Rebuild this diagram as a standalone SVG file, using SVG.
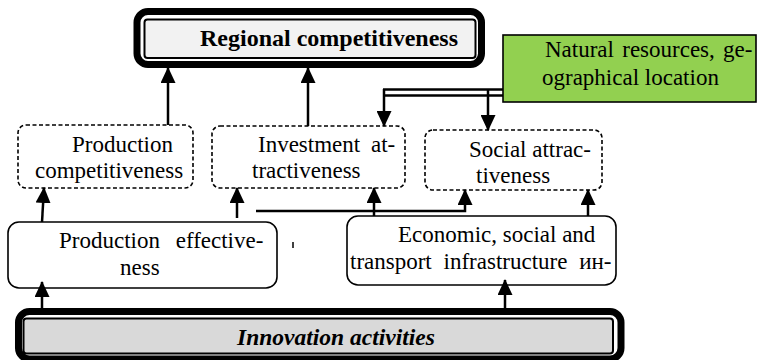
<svg xmlns="http://www.w3.org/2000/svg" width="757" height="360" viewBox="0 0 757 360">
<style>
  text { font-family: 'Liberation Serif', 'Times New Roman', Times, serif; font-size: 23px; fill: #000; }
  .bold { font-weight: bold; font-size: 24px; }
  .bi { font-weight: bold; font-style: italic; font-size: 23.5px; }
  .outer { fill: #fff; stroke: #000; stroke-width: 7; }
  .inner { stroke: #000; stroke-width: 2; }
  .dash { fill: #fff; stroke: #000; stroke-width: 1.6; stroke-dasharray: 4 2.5; }
  .solid { fill: #fff; stroke: #000; stroke-width: 1.6; }
  .conn { fill: none; stroke: #000; stroke-width: 2.5; }
</style>
<defs>
  <marker id="arr" markerUnits="userSpaceOnUse" viewBox="0 0 16 15" markerWidth="16" markerHeight="15" refX="15" refY="7.5" orient="auto">
    <path d="M0,0 L16,7.5 L0,15 z" fill="#000"/>
  </marker>
</defs>
<rect width="757" height="360" fill="#fff"/>

<g font-family="Liberation Serif, serif">
<g id="regional">
  <rect class="outer" x="137" y="11.5" width="344.5" height="53" rx="11"/>
  <rect class="inner" x="144.5" y="19.5" width="331" height="38.5" rx="3" fill="#f2f2f2"/>
  <text class="bold" x="200" y="46">Regional competitiveness</text>
</g>

<g id="natural">
  <rect x="503" y="35" width="253" height="67" fill="#92d050" stroke="#000" stroke-width="1.6"/>
  <text x="545" y="57" word-spacing="2.5">Natural resources, ge-</text>
  <text x="542" y="85">ographical location</text>
</g>

<g id="prodcomp">
  <rect class="dash" x="18" y="125" width="175" height="63" rx="8"/>
  <text x="72" y="152">Production</text>
  <text x="35" y="178">competitiveness</text>
</g>

<g id="invest">
  <rect class="dash" x="212" y="126" width="193" height="62" rx="8"/>
  <text x="258" y="152" word-spacing="5">Investment at-</text>
  <text x="252" y="178">tractiveness</text>
</g>

<g id="social">
  <rect class="dash" x="425" y="130" width="177" height="60" rx="8"/>
  <text x="469" y="157">Social attrac-</text>
  <text x="476" y="183">tiveness</text>
</g>

<g id="prodeff">
  <rect class="solid" x="8" y="222" width="269" height="66" rx="11"/>
  <text x="59" y="248" word-spacing="10">Production effective-</text>
  <text x="120" y="275">ness</text>
</g>

<g id="infra">
  <rect class="solid" x="347" y="216" width="269" height="69" rx="11"/>
  <text x="398" y="242">Economic, social and</text>
  <text x="350" y="269" word-spacing="6">transport infrastructure ин-</text>
</g>

<g id="innovation">
  <rect class="outer" x="18.5" y="311.5" width="602.5" height="47.5" rx="11"/>
  <rect class="inner" x="23.5" y="318.5" width="589.5" height="35" rx="3" fill="#d9d9d9"/>
  <text class="bi" x="237" y="345">Innovation activities</text>
</g>
</g>

<g id="tick">
  <line x1="293" y1="242" x2="293" y2="248" stroke="#000" stroke-width="1.5"/>
</g>

<g id="connectors">
  <line class="conn" x1="168" y1="125" x2="168" y2="68" marker-end="url(#arr)"/>
  <line class="conn" x1="308" y1="126" x2="308" y2="68" marker-end="url(#arr)"/>
  <line class="conn" x1="383" y1="89.5" x2="503" y2="89.5"/>
  <line class="conn" x1="384" y1="95.5" x2="503" y2="95.5"/>
  <line class="conn" x1="384" y1="89" x2="384" y2="126" marker-end="url(#arr)"/>
  <line class="conn" x1="488" y1="89" x2="488" y2="130" marker-end="url(#arr)"/>
  <line class="conn" x1="42" y1="222" x2="44" y2="188" marker-end="url(#arr)"/>
  <line class="conn" x1="237" y1="218" x2="237" y2="188" marker-end="url(#arr)"/>
  <polyline class="conn" points="256,211 465,211 465,190" marker-end="url(#arr)"/>
  <line class="conn" x1="374" y1="216" x2="374" y2="188" marker-end="url(#arr)"/>
  <line class="conn" x1="588" y1="216" x2="588" y2="190" marker-end="url(#arr)"/>
  <line class="conn" x1="42" y1="308" x2="42" y2="282" marker-end="url(#arr)"/>
  <line class="conn" x1="505" y1="308" x2="505" y2="280" marker-end="url(#arr)"/>
</g>
</svg>
